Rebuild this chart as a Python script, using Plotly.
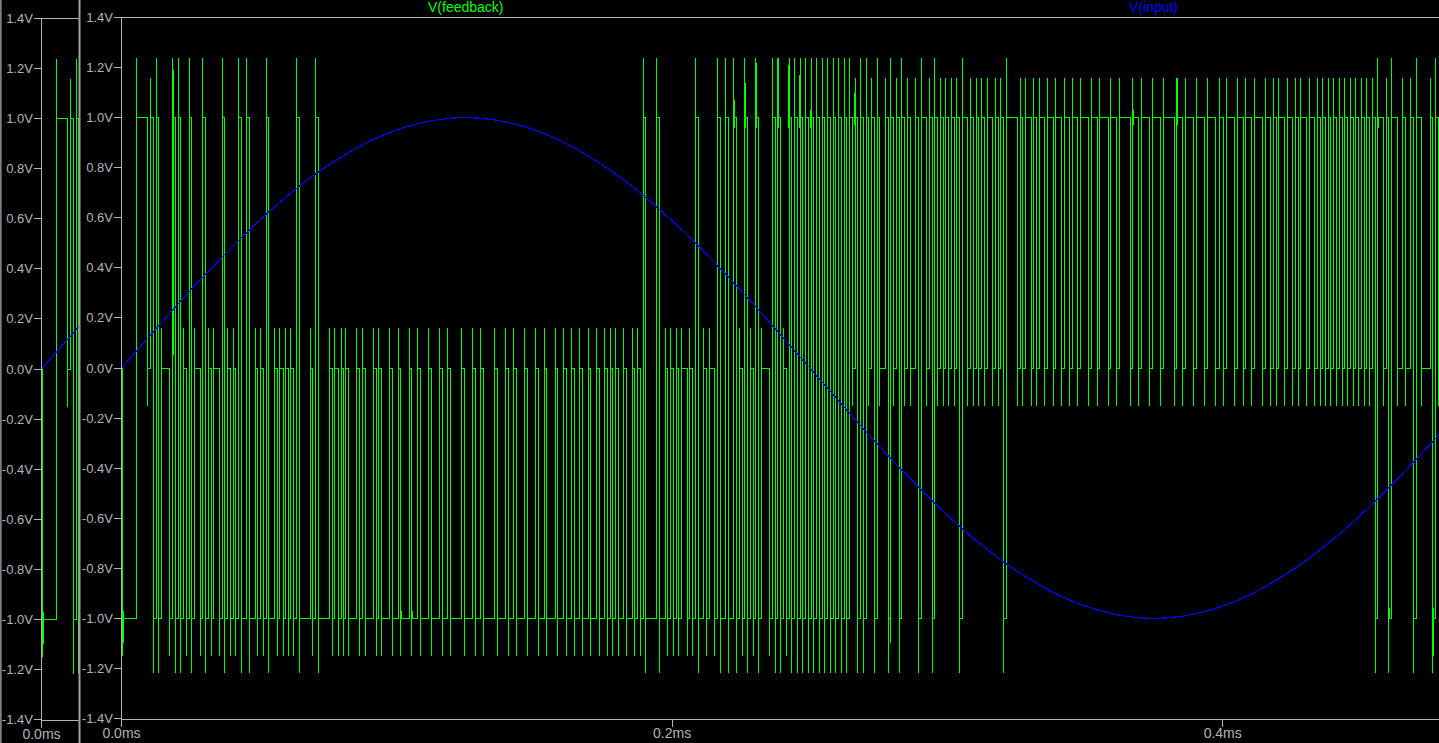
import plotly.graph_objects as go

# V(feedback): switching instants in microseconds and the level held after each one
edge_us = [
    0.3, 5.6, 9.6, 10.6, 11.7, 12.8, 13.6, 14.6, 17.6, 18.6, 19.7, 20.8, 21.6, 22.6, 23.7, 24.8, 25.6, 26.6, 28.8, 29.5,
    30.6, 31.7, 32.8, 33.5, 35.7, 36.8, 37.5, 38.6, 39.7, 40.8, 41.5, 42.6, 43.7, 45.5, 46.6, 48.8, 49.5, 50.6, 51.7, 52.8,
    53.5, 55.7, 56.8, 57.5, 59.0, 59.7, 60.8, 61.5, 62.6, 63.7, 64.8, 68.8, 69.5, 70.6, 71.7, 75.7, 76.8, 77.5, 79.0,
    79.8, 80.8, 81.5, 82.6, 85.5, 86.6, 87.7, 88.7, 91.6, 92.7, 93.5, 94.6, 97.5, 98.5, 100.7, 101.5, 104.7, 105.4, 107.6, 108.7,
    111.6, 112.7, 115.6, 116.7, 118.5, 119.6, 123.6, 124.7, 127.6, 128.7, 130.5, 131.6, 135.6, 136.7, 139.6, 140.7, 142.5, 143.6,
    146.5, 147.6, 150.5, 151.6, 153.8, 154.5, 157.7, 158.5,
    160.7, 161.7, 163.6, 164.6, 166.5, 167.6, 169.7, 170.5, 172.6, 173.7, 175.5, 176.6, 177.7, 178.5, 179.5, 180.6, 182.4, 183.5,
    185.7, 186.4, 187.5, 188.6, 189.7, 190.4, 194.4, 195.5, 197.7, 198.4, 199.5, 200.6, 201.7, 202.4, 203.5, 205.7, 206.4, 207.5,
    208.6, 209.7, 211.5, 212.6, 213.7, 215.5, 216.6, 217.7, 219.5, 220.6, 222.4, 223.5, 224.6, 225.7, 226.4, 227.5, 228.6, 229.7,
    230.4, 231.5, 232.6, 235.5, 236.6, 237.7, 238.4, 239.5,
    240.6, 241.6, 242.7, 243.5, 244.6, 245.6, 246.7, 247.5, 248.5, 249.6, 250.7, 251.5, 252.5, 253.6, 254.7, 255.4, 256.5, 257.6,
    258.7, 259.4, 260.5, 261.6, 262.7, 263.4, 264.5, 265.6, 266.7, 267.4, 268.5, 269.6, 270.7, 271.4, 272.5, 273.6, 274.7, 275.4,
    277.6, 278.7, 279.4, 280.5, 281.6, 282.7, 283.4, 284.5, 285.6, 286.7, 288.5, 289.6, 290.7, 292.5, 293.6, 294.7, 295.4, 296.5,
    297.6, 298.7, 299.4, 300.5, 301.6, 302.7, 303.4, 304.5, 305.6, 307.4, 308.5, 309.6, 310.7, 311.4, 312.5, 313.6, 314.6, 316.5,
    317.6, 318.6,
    319.4, 320.5, 321.5, 325.5, 326.6, 327.4, 328.5, 330.6, 331.4, 332.4, 333.5, 335.4, 336.4, 338.6, 339.3, 341.5, 342.6, 344.4,
    345.5, 347.3, 348.4, 351.3, 352.4, 354.6, 355.3, 358.6, 359.3, 361.5, 362.6, 366.6, 367.3, 369.5, 370.6, 373.5, 374.6, 377.5,
    378.6, 382.6, 383.3, 385.5, 386.6, 389.5, 390.6, 393.5, 394.5, 397.5, 398.7,
    400.4, 401.5, 404.4, 405.4, 407.6, 408.4, 410.5, 411.6, 414.5, 415.6, 417.4, 418.5, 419.6, 420.3, 422.5, 423.6, 425.4, 426.5,
    427.6, 428.3, 430.5, 431.6, 433.4, 434.5, 435.6, 436.3, 437.4, 438.5, 439.2, 440.3, 441.4, 442.5, 443.6, 444.3, 445.4, 446.5,
    447.6, 448.3, 449.4, 450.5, 451.6, 452.3, 453.4, 454.5, 455.6, 456.3, 458.5, 459.6, 460.3, 461.4, 463.6, 465.4, 466.5, 468.3,
    469.4, 470.5, 472.3, 475.5, 476.3, 477.4, 478.5,
]
edge_level = [
    -1, 1, 0, 1, -1, 1, -1, 0, -1, 1, -1, 1, -1, 0, -1, 1, -1, 0, -1, 1,
    -1, 0, -1, 0, -1, 1, -1, 0, -1, 0, -1, 1, -1, 1, -1, 0, -1, 0, -1, 1,
    -1, 0, -1, 0, -1, 0, -1, 0, -1, 1, -1, 0, -1, 1, -1, 0, -1, 0, -1,
    0, -1, 0, -1, 0, -1, 0, -1, 0, -1, 0, -1, 0, -1, 0, -1, 0, -1, 0, -1,
    0, -1, 0, -1, 0, -1, 0, -1, 0, -1, 0, -1, 0, -1, 0, -1, 0, -1,
    0, -1, 0, -1, 0, -1, 0, -1,
    0, -1, 0, -1, 0, -1, 0, -1, 0, -1, 0, -1, 0, -1, 0, -1, 0, -1,
    0, -1, 0, -1, 1, -1, 1, -1, 0, -1, 0, -1, 0, -1, 0, -1, 0, -1,
    1, -1, 0, -1, 0, -1, 1, -1, 1, -1, 1, -1, 0, -1, 1, -1, 0, -1,
    1, -1, 0, -1, 1, -1, 1, -1,
    0, -1, 1, -1, 1, -1, 1, -1, 1, -1, 1, -1, 1, -1, 1, -1, 1, -1,
    1, -1, 1, -1, 1, -1, 1, 0, 1, -1, 1, -1, 1, 0, 1, -1, 1, 0,
    1, -1, 1, 0, 1, -1, 1, 0, 1, 0, 1, -1, 1, 0, 1, -1, 1, 0,
    1, 0, 1, 0, 1, 0, 1, -1, 1, 0, 1, 0, 1, 0, 1, 0, 1, 0,
    1, 0,
    1, -1, 1, 0, 1, 0, 1, 0, 1, 0, 1, 0, 1, 0, 1, 0, 1, 0,
    1, 0, 1, 0, 1, 0, 1, 0, 1, 0, 1, 0, 1, 0, 1, 0, 1, 0,
    1, 0, 1, 0, 1, 0, 1, 0, 1, 0, 1,
    0, 1, 0, 1, 0, 1, 0, 1, 0, 1, 0, 1, 0, 1, 0, 1, 0, 1,
    0, 1, 0, 1, 0, 1, 0, 1, 0, 1, 0, 1, 0, 1, 0, 1, 0, 1,
    0, 1, 0, 1, 0, 1, 0, 1, -1, 1, 0, 1, -1, 1, 0, 1, 0, 1,
    -1, 1, 0, 1, -1, 1, 0,
]
# Peak reached while switching, keyed by (level before, level after)
edge_peak = {(-1, 1): 1.24, (0, 1): 1.16, (-1, 0): 0.16, (1, 0): -0.15, (0, -1): -1.15, (1, -1): -1.22}
start_level = 0

# Short ringing excursions on V(feedback) just after an edge: time (us), upper and lower volts
ring_us = [0.7, 19.0, 101.8, 105.8, 222.8, 226.8, 230.8, 238.8, 242.4, 246.4, 250.4, 266.4, 279.2, 367.7, 383.7, 456.7, 460.7, 476.7]
ring_hi = [-0.97, 1.19, -0.97, -0.97, 1.07, 1.14, 1.22, 1.24, 1.21, 1.17, 1.03, 1.10, -0.51, 1.03, 1.16, 1.0, -0.96, -0.96]
ring_lo = [-1.10, 0.05, -1.0, -1.0, 0.96, 0.96, 0.96, 0.96, 0.96, 0.96, 0.96, 0.97, -1.10, 0.97, 0.97, 0.96, -1.0, -1.15]

# V(input)
input_us = [0, 10, 20, 30, 40, 50, 60, 70, 80, 90, 100, 110, 120, 130, 140, 150, 160, 170, 180, 190, 200, 210, 220, 230, 240,
            250, 260, 270, 280, 290, 300, 310, 320, 330, 340, 350, 360, 370, 380, 390, 400, 410, 420, 430, 440, 450, 460, 470, 480]
input_v = [0, .125, .249, .368, .482, .588, .685, .771, .844, .905, .951, .982, .998, .998, .982, .951, .905, .844, .771, .685, .588, .482, .368, .249, .125,
           0, -.125, -.249, -.368, -.482, -.588, -.685, -.771, -.844, -.905, -.951, -.982, -.998, -.998, -.982, -.951, -.905, -.844, -.771, -.685, -.588, -.482, -.368, -.249]

y_ticks = [-1.4, -1.2, -1.0, -0.8, -0.6, -0.4, -0.2, 0.0, 0.2, 0.4, 0.6, 0.8, 1.0, 1.2, 1.4]
y_labels = ["-1.4V", "-1.2V", "-1.0V", "-0.8V", "-0.6V", "-0.4V", "-0.2V", "0.0V", "0.2V", "0.4V", "0.6V", "0.8V", "1.0V", "1.2V", "1.4V"]
x_ticks = [0.0, 0.2, 0.4]
x_labels = ["0.0ms", "0.2ms", "0.4ms"]
trace_names = ["V(feedback)", "V(input)"]
trace_label_ms = [0.125, 0.375]

assert len(edge_us) == len(edge_level)
assert len(ring_us) == len(ring_hi) == len(ring_lo)

fb_t, fb_v = [0.0], [start_level]
prev = start_level
for t, lv in zip(edge_us, edge_level):
    fb_t += [t / 1000, t / 1000, t / 1000]
    fb_v += [prev, edge_peak[(prev, lv)], lv]
    prev = lv
fb_t.append(0.479)
fb_v.append(prev)
in_t = [t / 1000 for t in input_us]

ring_t, ring_v = [], []
for t, hi, lo in zip(ring_us, ring_hi, ring_lo):
    ring_t += [t / 1000, t / 1000, None]
    ring_v += [hi, lo, None]

W, H = 1439, 743
GREEN, BLUE, GRAY = "#00ff00", "#0000ff", "#b4b4b4"
XFONT = dict(family="Liberation Sans", size=14, color=GRAY)
YFONT = dict(family="Liberation Sans", size=13, color=GRAY)

fig = go.Figure()
for xa, ya in (("x", "y"), ("x2", "y2")):
    fig.add_trace(go.Scatter(x=fb_t, y=fb_v, mode="lines", name=trace_names[0], xaxis=xa, yaxis=ya,
                             line=dict(color=GREEN, width=1), hoverinfo="skip"))
    fig.add_trace(go.Scatter(x=ring_t, y=ring_v, mode="lines", name=trace_names[0], xaxis=xa, yaxis=ya,
                             line=dict(color=GREEN, width=1), hoverinfo="skip", connectgaps=False))
    fig.add_trace(go.Scatter(x=in_t, y=input_v, mode="lines", name=trace_names[1], xaxis=xa, yaxis=ya,
                             line=dict(color=BLUE, width=1.2, shape="spline", smoothing=0.8), hoverinfo="skip"))


def xaxis(domain, xmax, anchor):
    return dict(domain=domain, range=[0, xmax], anchor=anchor, tickvals=x_ticks, ticktext=x_labels,
                ticks="outside", ticklen=7, tickwidth=1, tickcolor=GRAY, tickfont=XFONT, ticklabelstandoff=-5,
                showline=True, linecolor=GRAY, linewidth=1, mirror=True, showgrid=False, zeroline=False)


def yaxis(domain, anchor):
    return dict(domain=domain, range=[-1.4, 1.4], anchor=anchor, tickvals=y_ticks, ticktext=y_labels,
                ticks="outside", ticklen=7, tickwidth=1, tickcolor=GRAY, tickfont=YFONT, ticklabelstandoff=-2,
                showline=True, linecolor=GRAY, linewidth=1, showgrid=False, zeroline=False)


fig.update_layout(
    width=W, height=H, margin=dict(l=0, r=0, t=0, b=0, autoexpand=False), autosize=False,
    paper_bgcolor="black", plot_bgcolor="black", showlegend=False,
    xaxis=xaxis([121.5 / W, 1], (W - 121.5) / 2753, "y"),
    yaxis=yaxis([(H - 718.5) / H, (H - 17.5) / H], "x"),
    xaxis2=xaxis([41.5 / W, 79.5 / W], 38 / 2753, "y2"),
    yaxis2=yaxis([(H - 719.5) / H, (H - 18.5) / H], "x2"),
    shapes=[
        dict(type="line", xref="paper", yref="paper", x0=0.7 / W, x1=0.7 / W, y0=0, y1=1, line=dict(color="#808080", width=2)),
        dict(type="line", xref="paper", yref="paper", x0=79.5 / W, x1=79.5 / W, y0=0, y1=1, line=dict(color="#a0a0a0", width=2)),
    ],
    annotations=[
        dict(x=trace_label_ms[0], y=(H - 7) / H, xref="x", yref="paper", text=trace_names[0], showarrow=False,
             font=dict(family="Liberation Sans", size=14, color=GREEN), yanchor="middle"),
        dict(x=trace_label_ms[1], y=(H - 7) / H, xref="x", yref="paper", text=trace_names[1], showarrow=False,
             font=dict(family="Liberation Sans", size=14, color=BLUE), yanchor="middle"),
    ],
)

post = """
document.body.style.margin='0';
document.body.style.background='black';
document.querySelectorAll('.scatterlayer path').forEach(function(p){p.style.shapeRendering='crispEdges';});
"""
fig.write_html("out.html", post_script=post, config=dict(displayModeBar=False, staticPlot=True))
